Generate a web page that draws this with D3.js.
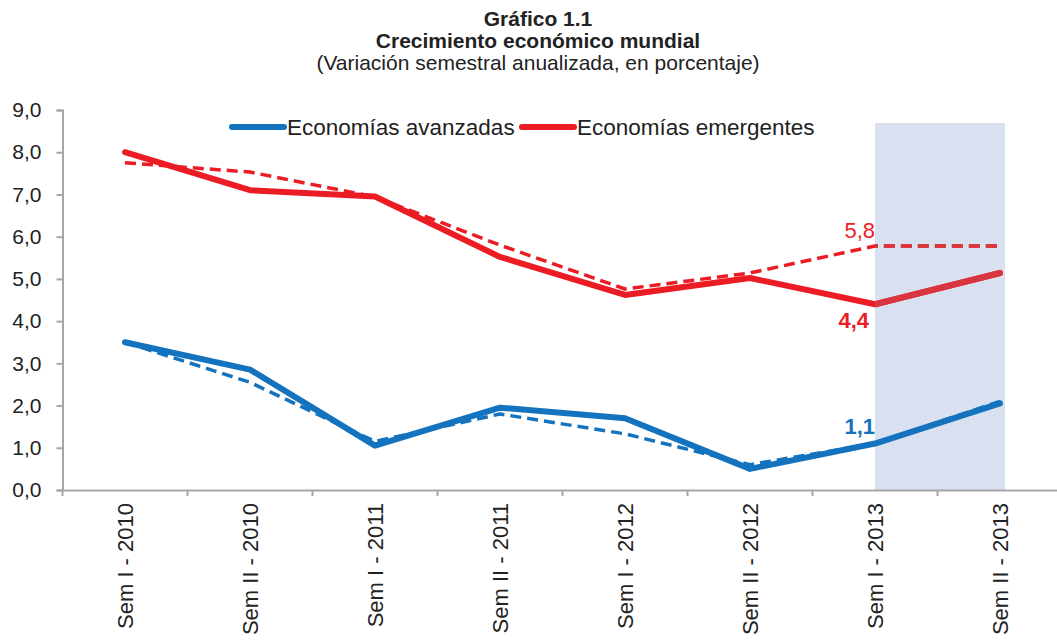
<!DOCTYPE html>
<html>
<head>
<meta charset="utf-8">
<script src="https://cdn.jsdelivr.net/npm/d3@7"></script>
<style>
  body { margin: 0; background: #fff; }
  svg { font-family: "Liberation Sans", Arial, sans-serif; }
</style>
</head>
<body>
<svg id="chart" width="1057" height="640"></svg>
<script>
// datos del gráfico
const categories = ['Sem I - 2010', 'Sem II - 2010', 'Sem I - 2011', 'Sem II - 2011',
  'Sem I - 2012', 'Sem II - 2012', 'Sem I - 2013', 'Sem II - 2013'];
const avanzadas = [3.5, 2.85, 1.05, 1.95, 1.7, 0.5, 1.1, 2.05];
const avanzadasPrev = [3.5, 2.55, 1.15, 1.8, 1.33, 0.6, 1.1, 2.1];
const emergentes = [8.0, 7.1, 6.95, 5.52, 4.62, 5.02, 4.4, 5.14];
const emergentesPrev = [7.75, 7.53, 6.94, 5.8, 4.76, 5.14, 5.78, 5.78];
const yTicks = [0, 1, 2, 3, 4, 5, 6, 7, 8, 9];
const shaded = ['Sem I - 2013', 'Sem II - 2013'];

const blue = '#1473be';
const red = '#ec1c24';
const redShaded = '#d9353e';

const svg = d3.select('#chart');

const x = d3.scaleBand().domain(categories).range([62.5, 1062.5]);
const y = d3.scaleLinear().domain([0, 9]).range([490, 110]);
const cx = d => x(d) + x.bandwidth() / 2;
const fmt = v => d3.format('.1f')(v).replace('.', ',');

// zona sombreada (proyección)
const shadeX = cx(shaded[0]);
const shadeW = cx(shaded[1]) - cx(shaded[0]) + 5;
svg.append('rect')
  .attr('x', shadeX)
  .attr('y', 123)
  .attr('width', shadeW)
  .attr('height', y(0) - 123)
  .attr('fill', '#d9e0ef');

svg.append('clipPath').attr('id', 'shadeClip')
  .append('rect')
  .attr('x', shadeX).attr('y', 0)
  .attr('width', shadeW + 20).attr('height', y(0));

// títulos
const title = svg.append('g').attr('text-anchor', 'middle').attr('fill', '#222');
title.append('text').attr('x', 538).attr('y', 26).attr('font-size', 21).attr('font-weight', 'bold').text('Gráfico 1.1');
title.append('text').attr('x', 538).attr('y', 48).attr('font-size', 21).attr('font-weight', 'bold').text('Crecimiento económico mundial');
title.append('text').attr('x', 538).attr('y', 70).attr('font-size', 21).text('(Variación semestral anualizada, en porcentaje)');

// ejes
const axisColor = '#a6a6a8';
const yAxis = svg.append('g').attr('transform', 'translate(62.5,0)')
  .call(d3.axisLeft(y).tickValues(yTicks).tickSize(6).tickPadding(15).tickFormat(fmt));
yAxis.select('.domain').attr('stroke', axisColor).attr('stroke-width', 2);
yAxis.selectAll('.tick line').attr('stroke', axisColor).attr('stroke-width', 2);
yAxis.selectAll('.tick text').attr('font-size', 21).attr('fill', '#222')
  .attr('font-family', '"Liberation Sans", Arial, sans-serif');

const xAxis = svg.append('g').attr('transform', `translate(0,${y(0)})`)
  .call(d3.axisBottom(x).tickSize(0).tickFormat(''));
xAxis.select('.domain').attr('stroke', axisColor).attr('stroke-width', 2);
xAxis.selectAll('.tick').remove();

// marcas de separación entre categorías
svg.append('g').selectAll('line')
  .data(categories)
  .join('line')
  .attr('x1', d => x(d)).attr('x2', d => x(d))
  .attr('y1', y(0)).attr('y2', y(0) + 6)
  .attr('stroke', axisColor).attr('stroke-width', 2);

svg.append('g').selectAll('text')
  .data(categories)
  .join('text')
  .attr('transform', d => `translate(${cx(d) + 8},503) rotate(-90)`)
  .attr('text-anchor', 'end')
  .attr('font-size', 22)
  .attr('fill', '#222')
  .text(d => d);

// líneas
const line = d3.line()
  .x((d, i) => cx(categories[i]))
  .y(d => y(d));

const drawSeries = (values, color, dashed, clip) => {
  svg.append('path')
    .datum(values)
    .attr('d', line)
    .attr('fill', 'none')
    .attr('stroke', color)
    .attr('stroke-width', dashed ? 3.5 : 6)
    .attr('stroke-dasharray', dashed ? '11,6' : null)
    .attr('stroke-linejoin', 'round')
    .attr('stroke-linecap', dashed ? 'butt' : 'round')
    .attr('clip-path', clip ? 'url(#shadeClip)' : null);
};

drawSeries(avanzadas, blue, false);
drawSeries(avanzadasPrev, blue, true);
drawSeries(emergentes, red, false);
drawSeries(emergentesPrev, red, true);
// tramo proyectado de emergentes en rojo más oscuro
drawSeries(emergentes, redShaded, false, true);
drawSeries(emergentesPrev, redShaded, true, true);

// etiquetas de datos
const i13 = categories.indexOf('Sem I - 2013');
svg.append('text').attr('x', cx(categories[i13])).attr('y', 238)
  .attr('text-anchor', 'end').attr('font-size', 22).attr('fill', red)
  .text(fmt(emergentesPrev[i13]));
svg.append('text').attr('x', cx(categories[i13]) - 6).attr('y', 328)
  .attr('text-anchor', 'end').attr('font-size', 22).attr('font-weight', 'bold').attr('fill', red)
  .text(fmt(emergentes[i13]));
svg.append('text').attr('x', cx(categories[i13])).attr('y', 434)
  .attr('text-anchor', 'end').attr('font-size', 22).attr('font-weight', 'bold').attr('fill', blue)
  .text(fmt(avanzadas[i13]));

// leyenda
const legend = [
  { name: 'Economías avanzadas', color: blue, x: 232 },
  { name: 'Economías emergentes', color: red, x: 522 }
];
const lg = svg.append('g').selectAll('g').data(legend).join('g')
  .attr('transform', d => `translate(${d.x},127)`);
lg.append('line').attr('x1', 0).attr('x2', 52).attr('y1', 0).attr('y2', 0)
  .attr('stroke', d => d.color).attr('stroke-width', 6).attr('stroke-linecap', 'round');
lg.append('text').attr('x', 55).attr('y', 8).attr('font-size', 22.5).attr('fill', '#222')
  .text(d => d.name);
</script>
</body>
</html>
